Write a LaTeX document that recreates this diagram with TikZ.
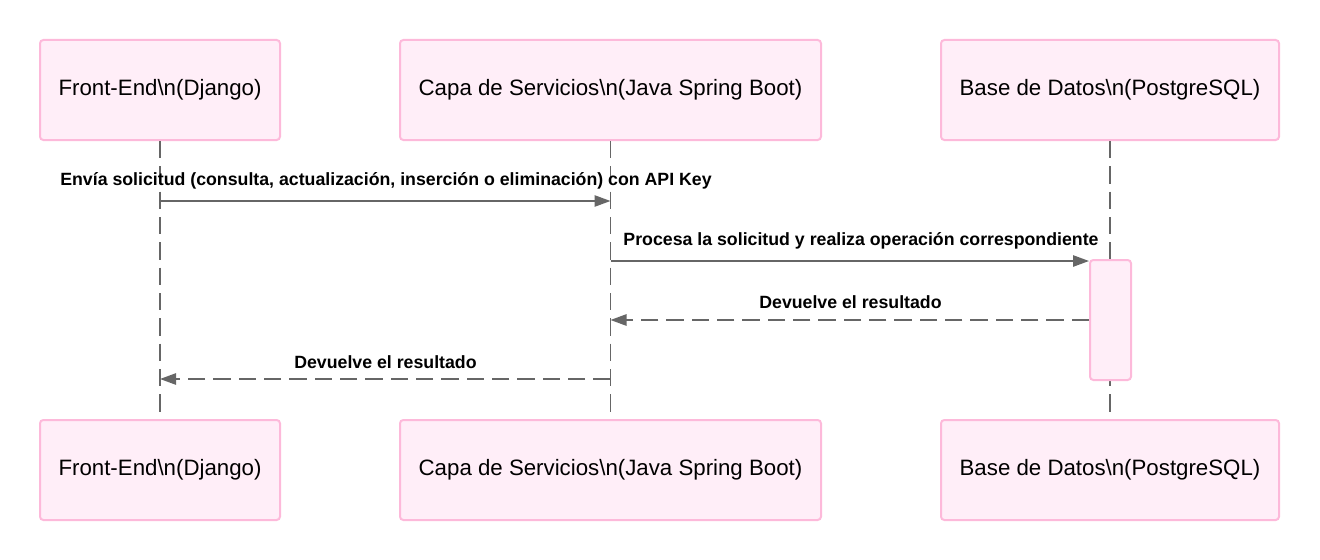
\documentclass[tikz,border=0pt]{standalone}
\usepackage{fontspec}
\setmainfont{Liberation Sans}
\usetikzlibrary{arrows.meta, positioning}
\definecolor{actfill}{HTML}{FFEEF8}
\definecolor{actline}{HTML}{FDB9DA}
\definecolor{msgline}{HTML}{666666}

\begin{document}
\begin{tikzpicture}[x=0.75pt, y=-0.75pt, >={Triangle[length=12pt, width=8.5pt]},
    actor/.style={draw=actline, fill=actfill, line width=1.5pt, rounded corners=2.5pt, minimum height=75pt, font=\fontsize{16.7}{20}\selectfont},
    msg/.style={font=\bfseries\fontsize{13.3}{16}\selectfont, anchor=base},
    life/.style={draw=msgline, line width=1.2pt, dash pattern=on 13pt off 6pt},
    call/.style={draw=msgline, line width=1.2pt, ->},
    reply/.style={call, dash pattern=on 13pt off 6pt}]

        \useasboundingbox (0,0) rectangle (1320,560);

        % Nodes
        \node[actor, minimum width=180pt] (fe) at (160,90) {Front-End\textbackslash n(Django)};
        \node[actor, minimum width=315.75pt] (cs) at (610.5,90) {Capa de Servicios\textbackslash n(Java Spring Boot)};
        \node[actor, minimum width=253.5pt] (db) at (1110,90) {Base de Datos\textbackslash n(PostgreSQL)};
        \node[actor, minimum width=180pt, below=208.5pt of fe] (feb) {Front-End\textbackslash n(Django)};
        \node[actor, minimum width=315.75pt, below=208.5pt of cs] (csb) {Capa de Servicios\textbackslash n(Java Spring Boot)};
        \node[actor, minimum width=253.5pt, below=208.5pt of db] (dbb) {Base de Datos\textbackslash n(PostgreSQL)};

        % Lifelines
        \draw[life] (fe) -- (feb);
        \draw[life] (cs) -- (csb);
        \draw[life] (db) -- (dbb);

        \node[actor, minimum width=30.75pt, minimum height=90pt] (act) at (1110.5,320) {};

        % Arrows
        \coordinate (y1) at (0,201);
        \coordinate (y2) at (0,261);
        \coordinate (y3) at (0,320);
        \coordinate (y4) at (0,379);
        \draw[call] (fe |- y1) -- (cs |- y1);
        \draw[call] (cs |- y2) -- (act.west |- y2);
        \draw[reply] (act.west |- y3) -- (cs |- y3);
        \draw[reply] (cs |- y4) -- (fe |- y4);

        % Labels
        \node[msg] (l1) at (386,185) {Envía solicitud (consulta, actualización, inserción o eliminación) con API Key};
        \node[msg] (l2) at (861,245) {Procesa la solicitud y realiza operación correspondiente};
        \node[msg] (l3) at (850.5,308) {Devuelve el resultado};
        \node[msg] (l4) at (385.5,368) {Devuelve el resultado};

\end{tikzpicture}
\end{document}
